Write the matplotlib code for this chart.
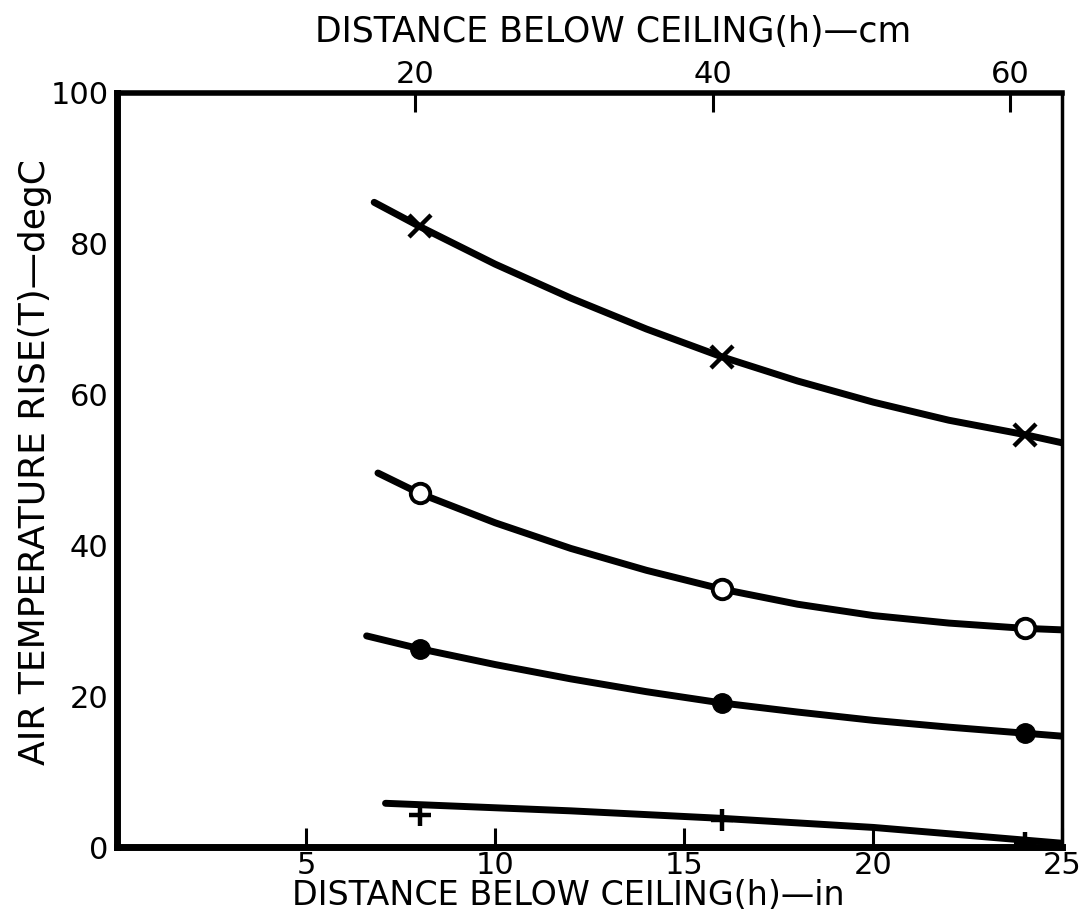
import matplotlib

matplotlib.use("Agg")
import matplotlib.pyplot as plt

plt.rcParams["font.family"] = ["DejaVu Sans"]

# measured points: distance below ceiling (in) vs air temperature rise (degC)
h_in = [8, 16, 24]
t_cross = [82.3, 65.0, 54.7]
t_open = [46.9, 34.2, 29.0]
t_filled = [26.3, 19.1, 15.1]
t_plus = [4.2, 3.6, 0.5]

x_cross = [6.8, 8, 10, 12, 14, 16, 18, 20, 22, 24, 25]
y_cross = [85.5, 82.3, 77.3, 72.8, 68.7, 65.0, 61.8, 59.0, 56.6, 54.7, 53.6]
x_open = [6.9, 8, 10, 12, 14, 16, 18, 20, 22, 24, 25]
y_open = [49.6, 46.9, 43.0, 39.6, 36.7, 34.2, 32.2, 30.7, 29.7, 29.0, 28.8]
x_filled = [6.6, 8, 10, 12, 14, 16, 18, 20, 22, 24, 25]
y_filled = [28.0, 26.3, 24.2, 22.3, 20.6, 19.1, 17.9, 16.8, 15.9, 15.1, 14.7]
x_plus = [7.1, 12, 16, 20, 25]
y_plus = [5.8, 4.8, 3.8, 2.6, 0.5]

bottom_ticks = [5, 10, 15, 20, 25]
top_ticks = [20, 40, 60]
y_ticks = [0, 20, 40, 60, 80, 100]

fig = plt.figure(figsize=(10.84, 9.17), dpi=100)
ax = fig.add_axes([0.108, 0.0763, 0.872, 0.8223])

for xs, ys in [(x_cross, y_cross), (x_open, y_open),
               (x_filled, y_filled), (x_plus, y_plus)]:
    ax.plot(xs, ys, color="black", lw=5, solid_capstyle="round",
            solid_joinstyle="round", zorder=2)

ax.plot(h_in, t_cross, ls="none", marker="x", ms=16, mew=3.2,
        color="black", zorder=3)
ax.plot(h_in, t_open, ls="none", marker="o", ms=14, mew=2.8,
        mfc="white", mec="black", zorder=3)
ax.plot(h_in, t_filled, ls="none", marker="o", ms=14, color="black", zorder=3)
ax.plot(h_in, t_plus, ls="none", marker="+", ms=16, mew=3.2,
        color="black", zorder=3)

ax.set_xlim(0, 25)
ax.set_ylim(0, 100)
ax.set_xticks(bottom_ticks)
ax.set_yticks(y_ticks)
ax.tick_params(axis="x", direction="in", length=14, width=2.2,
               labelsize=22, pad=3)
ax.tick_params(axis="y", length=0, labelsize=22, pad=6)
for side, lw in [("left", 5), ("bottom", 5), ("top", 4), ("right", 2.5)]:
    ax.spines[side].set_linewidth(lw)

ax.set_xlabel("DISTANCE BELOW CEILING(h)\u2014in", fontsize=24)
ax.xaxis.set_label_coords(0.477, -0.042)
ax.set_ylabel("AIR TEMPERATURE RISE(T)\u2014degC", fontsize=26)
ax.yaxis.set_label_coords(-0.069, 0.51)

top = ax.secondary_xaxis("top", functions=(lambda x: x * 2.54,
                                           lambda c: c / 2.54))
top.set_xticks(top_ticks)
top.tick_params(direction="in", length=14, width=2.2, labelsize=22, pad=3)
top.spines["top"].set_visible(False)
top.set_xlabel("DISTANCE BELOW CEILING(h)\u2014cm", fontsize=25)
top.xaxis.set_label_coords(0.525, 1.068, transform=ax.transAxes)

fig.savefig("out.png", dpi=100)
